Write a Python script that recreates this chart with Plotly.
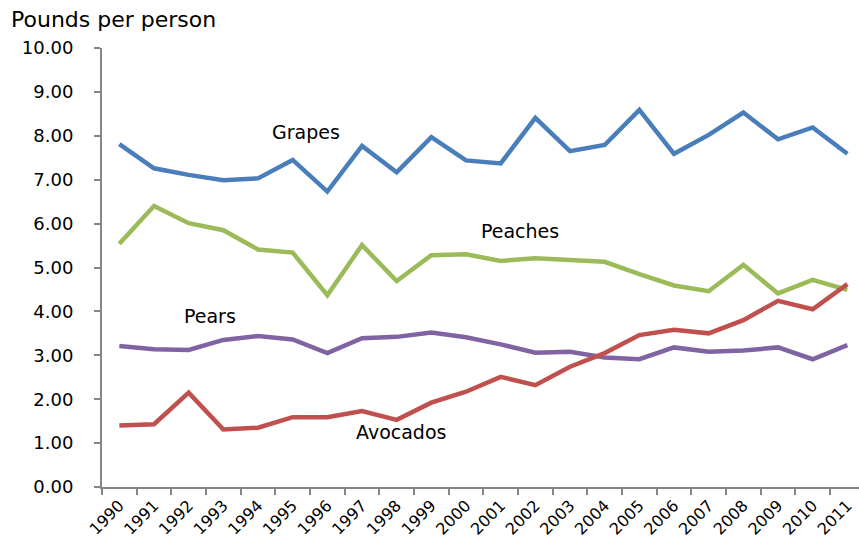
import plotly.graph_objects as go

years = [str(y) for y in range(1990, 2012)]

grapes = [7.81, 7.26, 7.11, 6.99, 7.03, 7.45, 6.73, 7.77, 7.17, 7.97, 7.44,
          7.37, 8.41, 7.65, 7.79, 8.59, 7.59, 8.02, 8.53, 7.92, 8.19, 7.59]
peaches = [5.54, 6.40, 6.01, 5.85, 5.41, 5.34, 4.37, 5.51, 4.69, 5.28, 5.30,
           5.15, 5.21, 5.16, 5.13, 4.85, 4.59, 4.46, 5.06, 4.41, 4.72, 4.49]
pears = [3.21, 3.14, 3.12, 3.35, 3.44, 3.36, 3.05, 3.39, 3.42, 3.52, 3.41,
         3.25, 3.06, 3.08, 2.95, 2.91, 3.18, 3.08, 3.11, 3.18, 2.91, 3.23]
avocados = [1.40, 1.43, 2.15, 1.31, 1.35, 1.59, 1.59, 1.73, 1.53, 1.92, 2.17,
            2.51, 2.32, 2.74, 3.05, 3.46, 3.58, 3.50, 3.80, 4.24, 4.05, 4.62]

series = [
    ("Grapes", grapes, "#4a7ebb"),
    ("Peaches", peaches, "#9bbb59"),
    ("Pears", pears, "#8064a2"),
    ("Avocados", avocados, "#c0504d"),
]

# label placement (category index, value) for each series name
label_pos = {
    "Grapes": (5.37, 8.09),
    "Peaches": (11.57, 5.83),
    "Pears": (2.62, 3.90),
    "Avocados": (8.13, 1.25),
}

FONT = "DejaVu Sans"
AXIS_COLOR = "#868686"

fig = go.Figure()
for name, vals, color in series:
    fig.add_trace(go.Scatter(
        x=years, y=vals, mode="lines", name=name,
        line=dict(color=color, width=4.5),
    ))
    lx, ly = label_pos[name]
    fig.add_annotation(x=lx, y=ly, xref="x", yref="y", text=name,
                       showarrow=False,
                       font=dict(family=FONT, size=19, color="#000000"))

fig.add_annotation(x=-0.123, y=1.064, xref="paper", yref="paper",
                   xanchor="left", yanchor="middle",
                   text="Pounds per person", showarrow=False,
                   font=dict(family=FONT, size=22, color="#000000"))

fig.update_layout(
    width=859, height=537,
    margin=dict(l=102, r=0, t=48, b=50),
    paper_bgcolor="white", plot_bgcolor="white",
    showlegend=False,
    font=dict(family=FONT, color="#000000"),
)
fig.update_xaxes(
    type="category", categoryorder="array", categoryarray=years,
    range=[-0.5, 21.336], automargin=False,
    tickson="boundaries", ticks="outside", ticklen=6, tickwidth=1.5,
    tickcolor=AXIS_COLOR, showline=True, linecolor=AXIS_COLOR, linewidth=2,
    showgrid=False, tickangle=-45, ticklabelstandoff=1,
    tickfont=dict(family=FONT, size=16, color="#000000"),
)
fig.update_yaxes(
    range=[0, 10], tickvals=[i for i in range(11)],
    ticktext=[f"{i:.2f}" for i in range(11)], automargin=False,
    ticks="outside", ticklen=6, tickwidth=1.5, tickcolor=AXIS_COLOR,
    showline=True, linecolor=AXIS_COLOR, linewidth=2,
    showgrid=False, zeroline=False, ticklabelstandoff=17,
    tickfont=dict(family=FONT, size=18, color="#000000"),
)

fig.write_html("out.html")
